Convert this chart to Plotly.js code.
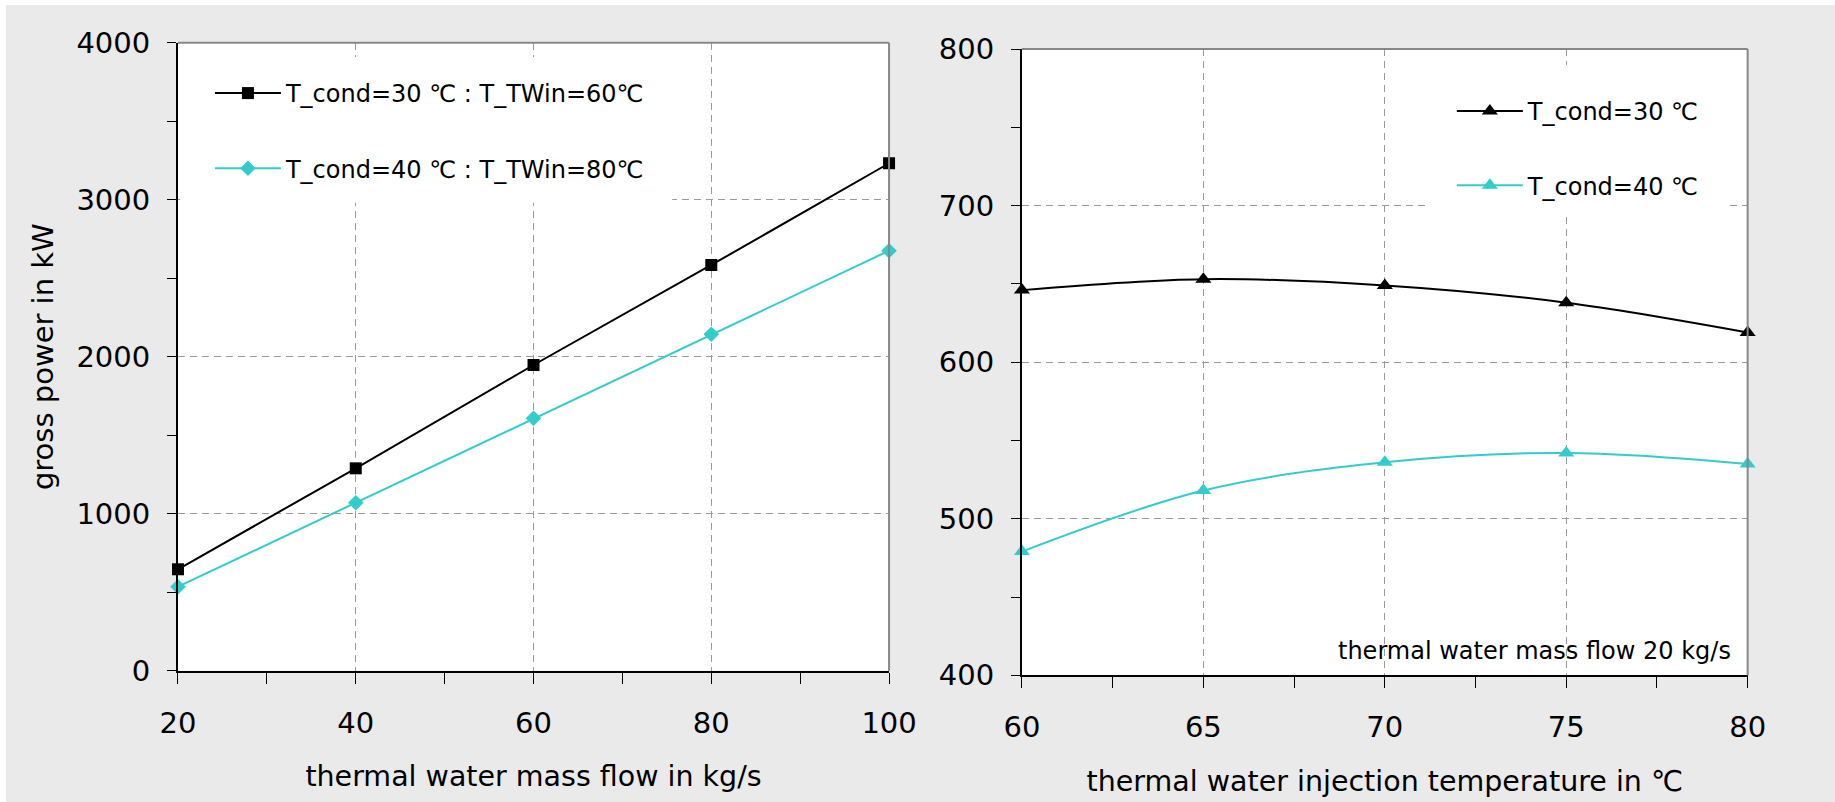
<!DOCTYPE html>
<html>
<head>
<meta charset="utf-8">
<script src="https://cdn.plot.ly/plotly-3.0.1.min.js"></script>
<style>html,body{margin:0;padding:0;background:#fff;}#chart{width:1835px;height:802px;}</style>
</head>
<body>
<div id="chart"></div>
<script>
// ---- data ----
const flowX = [20, 40, 60, 80, 100];
const powerCond30 = [646, 1289, 1947, 2584, 3232];
const powerCond40 = [535, 1070, 1608, 2143, 2675];
const injTemp = [60, 65, 70, 75, 80];
const injCond30 = [646, 653, 649, 638, 619];
const injCond40 = [479, 518, 536, 542, 535];
const leftNames = ['T_cond=30 ℃ : T_TWin=60℃', 'T_cond=40 ℃ : T_TWin=80℃'];
const rightNames = ['T_cond=30 ℃', 'T_cond=40 ℃'];
const xTitleLeft = 'thermal water mass flow in kg/s';
const yTitleLeft = 'gross power in kW';
const xTitleRight = 'thermal water injection temperature in ℃';
const noteText = 'thermal water mass flow 20 kg/s';

const BLACK = '#000000';
const CYAN = '#33CCCC';
const FONT = 'DejaVu Sans, Liberation Sans, Arial, sans-serif';

const traces = [
  {x: flowX, y: powerCond30, name: leftNames[0], xaxis: 'x', yaxis: 'y', mode: 'lines+markers', cliponaxis: false,
   line: {color: BLACK, width: 2}, marker: {symbol: 'square', size: 12, color: BLACK},
   legend: 'legend', legendgroup: 'a'},
  {x: flowX, y: powerCond40, name: leftNames[1], xaxis: 'x', yaxis: 'y', mode: 'lines+markers', cliponaxis: false,
   line: {color: CYAN, width: 2}, marker: {symbol: 'diamond', size: 12, color: CYAN},
   legend: 'legend', legendgroup: 'b'},
  {x: injTemp, y: injCond30, name: rightNames[0], xaxis: 'x2', yaxis: 'y2', mode: 'lines+markers', cliponaxis: false,
   line: {color: BLACK, width: 2, shape: 'spline', smoothing: 1}, marker: {symbol: 'triangle-up', size: 14, color: BLACK},
   legend: 'legend2', legendgroup: 'c'},
  {x: injTemp, y: injCond40, name: rightNames[1], xaxis: 'x2', yaxis: 'y2', mode: 'lines+markers', cliponaxis: false,
   line: {color: CYAN, width: 2, shape: 'spline', smoothing: 1}, marker: {symbol: 'triangle-up', size: 14, color: CYAN},
   legend: 'legend2', legendgroup: 'd'}
];

const GRID = '#9a9a9a';
const DASH = '7px,5px';
function xAx(domain, range, dtick, minorDt, title, anchor) {
  return {domain: domain, range: range, tick0: range[0], dtick: dtick, anchor: anchor,
    ticks: 'outside', ticklen: 11, tickcolor: '#000', tickwidth: 1,
    showline: true, linecolor: '#000', linewidth: 2,
    showgrid: true, gridcolor: GRID, griddash: DASH, gridwidth: 1, zeroline: false,
    tickfont: {family: FONT, size: 29, color: '#000'}, ticklabelstandoff: 14,
    minor: {dtick: minorDt, ticks: 'outside', ticklen: 11, tickcolor: '#000', showgrid: false},
    title: {text: title, font: {family: FONT, size: 28.5, color: '#000'}, standoff: 28},
    fixedrange: true};
}
function yAx(domain, range, dtick, minorDt, title, anchor) {
  return {domain: domain, range: range, tick0: range[0], dtick: dtick, anchor: anchor,
    ticks: 'outside', ticklen: 9, tickcolor: '#000', tickwidth: 1,
    showline: true, linecolor: '#000', linewidth: 2,
    showgrid: true, gridcolor: GRID, griddash: DASH, gridwidth: 1, zeroline: false,
    tickfont: {family: FONT, size: 29, color: '#000'}, ticklabelstandoff: 11,
    minor: {dtick: minorDt, ticks: 'outside', ticklen: 9, tickcolor: '#000', showgrid: false},
    title: {text: title, font: {family: FONT, size: 29, color: '#000'}, standoff: 14},
    fixedrange: true};
}

function border(xr, yr) {
  return [
    {type: 'line', xref: xr + ' domain', yref: yr + ' domain', x0: 0, x1: 1, y0: 1, y1: 1, line: {color: '#888', width: 2}, layer: 'above'},
    {type: 'line', xref: xr + ' domain', yref: yr + ' domain', x0: 1, x1: 1, y0: 0, y1: 1, line: {color: '#888', width: 2}, layer: 'above'}
  ];
}
// white legend backing boxes (hide gridlines behind the legends, as in the original)
function legendBox(xr, yr, x0, x1, y0, y1) {
  return {type: 'rect', xref: xr + ' domain', yref: yr + ' domain', x0: x0, x1: x1, y0: y0, y1: y1,
    fillcolor: '#FFFFFF', line: {width: 0}, layer: 'above'};
}

const layout = {
  width: 1835, height: 802,
  margin: {l: 0, r: 0, t: 0, b: 0, pad: 0},
  paper_bgcolor: '#EAEAEA', plot_bgcolor: '#FFFFFF',
  font: {family: FONT, color: '#000'},
  xaxis: xAx([0.0970, 0.4845], [20, 100], 20, 10, xTitleLeft, 'y'),
  yaxis: yAx([0.1637, 0.9468], [0, 4000], 1000, 500, yTitleLeft, 'x'),
  xaxis2: xAx([0.5569, 0.9524], [60, 80], 5, 2.5, xTitleRight, 'y2'),
  yaxis2: yAx([0.1580, 0.9389], [400, 800], 100, 50, '', 'x2'),
  legend: {x: 0.1144, y: 0.9115, xanchor: 'left', yanchor: 'top', bgcolor: '#FFFFFF', borderwidth: 0,
    font: {family: FONT, size: 24, color: '#000'}, itemwidth: 66, traceorder: 'grouped', tracegroupgap: 41},
  legend2: {x: 0.7912, y: 0.889, xanchor: 'left', yanchor: 'top', bgcolor: '#FFFFFF', borderwidth: 0,
    font: {family: FONT, size: 24, color: '#000'}, itemwidth: 66, traceorder: 'grouped', tracegroupgap: 40},
  showlegend: true,
  annotations: [
    {text: noteText, xref: 'x2 domain', yref: 'y2 domain', x: 0.98, y: 0.038, xanchor: 'right', yanchor: 'middle',
     showarrow: false, font: {family: FONT, size: 24, color: '#000'}}
  ],
  shapes: [
    {type: 'rect', xref: 'paper', yref: 'paper', x0: 0, x1: 1, y0: 0.99377, y1: 1, fillcolor: '#FFFFFF', line: {width: 0}, layer: 'below'},
    {type: 'rect', xref: 'paper', yref: 'paper', x0: 0, x1: 0.00327, y0: 0, y1: 1, fillcolor: '#FFFFFF', line: {width: 0}, layer: 'below'},
    legendBox('x', 'y', 0.003, 0.695, 0.745, 0.977),
    legendBox('x2', 'y2', 0.561, 0.973, 0.738, 0.974)
  ].concat(border('x', 'y'), border('x2', 'y2'))
};

Plotly.newPlot('chart', traces, layout, {displayModeBar: false, staticPlot: true});
</script>
</body>
</html>
